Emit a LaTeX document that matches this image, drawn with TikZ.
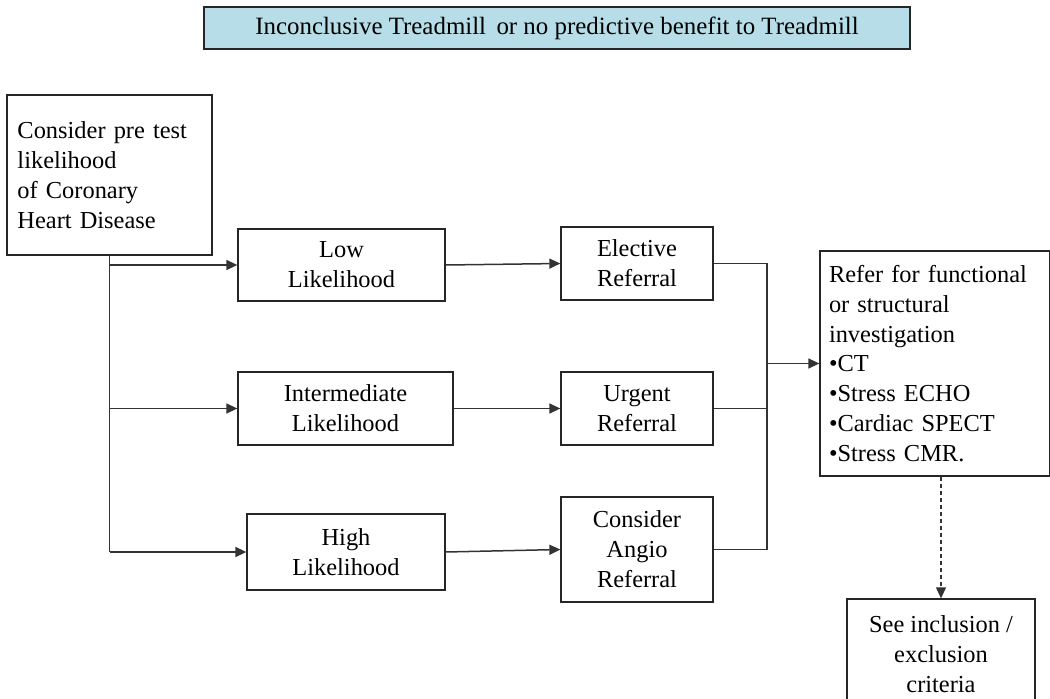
\documentclass[tikz,border=0pt]{standalone}
\usepackage{fontspec}
\setmainfont{Liberation Serif}
\usetikzlibrary{arrows.meta}
\definecolor{topfill}{HTML}{B7DEE8}
\begin{document}
\begin{tikzpicture}[x=1bp,y=-1bp,
  box/.style={draw=black!85, line width=1.3bp, rectangle, inner sep=0pt, align=center,
    font=\fontsize{24.5}{30}\selectfont},
  conn/.style={draw=black!80, line width=1.5bp},
  arr/.style={conn, -{Triangle[length=11bp,width=10bp]}}]
\useasboundingbox (0,0) rectangle (1050,699);
\node[box, fill=topfill, minimum width=706bp, minimum height=42bp, font=\fontsize{25}{28}\selectfont] (top) at (557,28) {Inconclusive Treadmill\, or no predictive benefit to Treadmill};
\node[box, minimum width=205bp, minimum height=160bp, text width=184bp, align=left] (left) at (109.5,175) {Consider pre test\\likelihood\\of Coronary\\Heart Disease};
\node[box, minimum width=207bp, minimum height=72bp] (low) at (341.5,265) {Low\\Likelihood};
\node[box, minimum width=215bp, minimum height=73bp] (int) at (345.5,408.5) {Intermediate\\Likelihood};
\node[box, minimum width=198bp, minimum height=76bp] (high) at (346,552) {High\\Likelihood};
\node[box, minimum width=152bp, minimum height=73bp] (elec) at (637,263.5) {Elective\\Referral};
\node[box, minimum width=152bp, minimum height=73bp] (urg) at (637,408.5) {Urgent\\Referral};
\node[box, minimum width=152bp, minimum height=105bp] (angio) at (637,549.5) {Consider\\Angio\\Referral};
\node[box, minimum width=230bp, minimum height=225bp, text width=212bp, align=left] (right) at (935,363.5) {Refer for functional\\or structural\\investigation\\\textbullet CT\\\textbullet Stress ECHO\\\textbullet Cardiac SPECT\\\textbullet Stress CMR.};
\node[box, minimum width=188bp, minimum height=110bp] (bot) at (941,654) {See inclusion /\\exclusion\\criteria};
\coordinate (m) at (767,363.5);
% left trunk
\draw[conn] (left.south) -- (left.south |- high.west);
\draw[arr] (left.south |- low.west) -- (low.west);
\draw[arr] (left.south |- int.west) -- (int.west);
\draw[arr] (left.south |- high.west) -- (high.west);
% middle
\draw[arr] (low.east) -- (elec.west);
\draw[arr] (int.east) -- (urg.west);
\draw[arr] (high.east) -- (angio.west);
% merge
\draw[conn] (elec.east) -| (m);
\draw[conn] (angio.east) -| (m);
\draw[conn] (urg.east) -- (urg.east -| m);
\draw[arr] (m) -- (right.west);
\draw[arr, dash pattern=on 4bp off 3bp, line width=1.1bp] (bot.north |- right.south) -- (bot.north);
\end{tikzpicture}
\end{document}
